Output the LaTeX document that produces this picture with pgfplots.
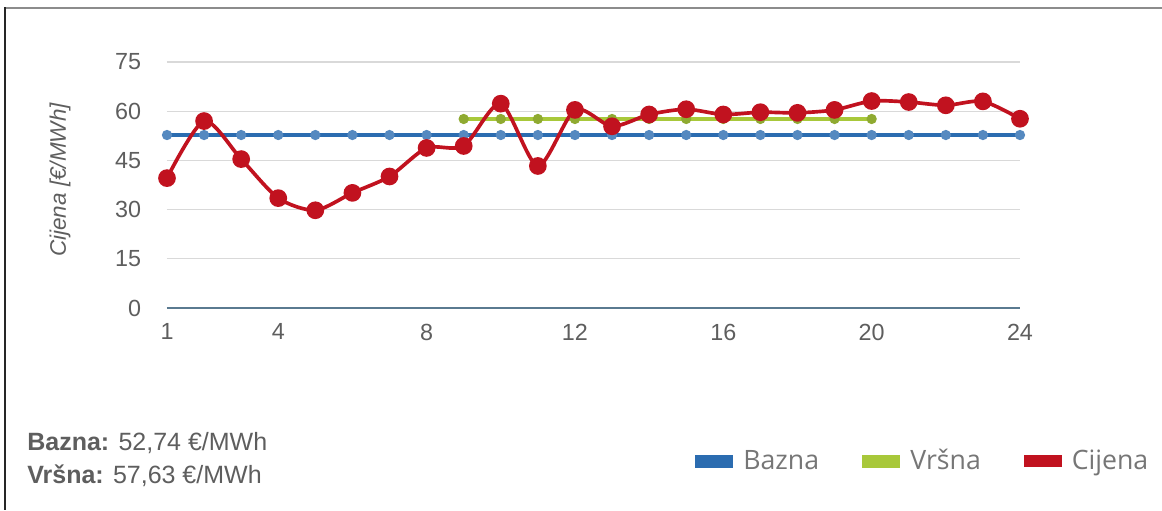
\documentclass[border=0pt]{standalone}
\usepackage{pgfplots}
\pgfplotsset{compat=1.18}
\usepackage{fontspec}
\setmainfont{Liberation Sans}
\newfontfamily\legfont{Open Sans}

\definecolor{bazna}{HTML}{2B6CB0}
\definecolor{vrsna}{HTML}{A8C83A}
\definecolor{cijena}{HTML}{C1121F}
\definecolor{axisc}{HTML}{5A7A90}
\definecolor{gridc}{HTML}{D9D9D9}
\definecolor{txt}{HTML}{5E5E5E}

\begin{document}
\begin{tikzpicture}
% frame, in pixel units of the reference
\begin{scope}[x=0.6pt,y=0.6pt]
  \useasboundingbox (0,0) rectangle (1162,510);
  \draw[black!45, line width=1.3pt] (4,502) -- (1162,502);
  \draw[black!85, line width=1.2pt] (4.5,502.6) -- (4.5,0);
  \node[anchor=base west, inner sep=0pt, text=txt, font=\fontsize{15}{17}\selectfont] at (27,60) {\textbf{Bazna:} 52,74 €/MWh};
  \node[anchor=base west, inner sep=0pt, text=txt, font=\fontsize{15}{17}\selectfont] at (27,27) {\textbf{Vršna:} 57,63 €/MWh};
\end{scope}

\begin{axis}[
    at={(100.2pt,121.2pt)}, anchor=south west,
    scale only axis,
    width=511.8pt, height=147.6pt,
    xmin=1, xmax=24,
    ymin=0, ymax=75,
    xtick={1,4,8,12,16,20,24},
    ytick={0,15,30,45,60,75},
    major tick length=0pt,
    ymajorgrids=true,
    grid style={gridc, line width=0.8pt},
    axis lines*=left,
    x axis line style={axisc, line width=1.2pt, -},
    y axis line style={draw=none},
    /pgf/number format/assume math mode=true,
    ticklabel style={font=\fontsize{14}{16}\selectfont, text=txt},
    yticklabel shift=12pt,
    xticklabel shift=6pt,
    ylabel={\itshape Cijena [€/MWh]},
    every axis y label/.style={at={(axis description cs:-0.1254,0.52)}, rotate=90, anchor=center,
        font=\fontsize{13.5}{16}\selectfont, text=txt},
    legend columns=3,
    legend style={at={(axis description cs:1.1606,-0.622)}, anchor=east,
        draw=none, fill=none, font=\legfont\fontsize{16}{18}\selectfont, text=txt!85,
        /tikz/every odd column/.append style={column sep=4pt},
        /tikz/every even column/.append style={column sep=24pt},
        nodes={inner sep=2pt}},
    legend image code/.code={\fill[#1] (0pt,-2.7pt) rectangle (20.4pt,2.7pt);},
]
\addplot[color=bazna, line width=2.4pt, mark=*, mark size=1.8pt,
    mark options={fill=bazna!80, draw=bazna!80}]
    coordinates {
    (1,52.74)(2,52.74)(3,52.74)(4,52.74)(5,52.74)(6,52.74)(7,52.74)(8,52.74)
    (9,52.74)(10,52.74)(11,52.74)(12,52.74)(13,52.74)(14,52.74)(15,52.74)(16,52.74)
    (17,52.74)(18,52.74)(19,52.74)(20,52.74)(21,52.74)(22,52.74)(23,52.74)(24,52.74)
    };
\addlegendentry{Bazna}

\addplot[color=vrsna, line width=2.4pt, mark=*, mark size=1.8pt,
    mark options={fill=vrsna!85!black, draw=vrsna!85!black}]
    coordinates {
    (9,57.63)(10,57.63)(11,57.63)(12,57.63)(13,57.63)(14,57.63)
    (15,57.63)(16,57.63)(17,57.63)(18,57.63)(19,57.63)(20,57.63)
    };
\addlegendentry{Vršna}

\addplot[color=cijena, line width=2.2pt, smooth, tension=0.45, mark=*, mark size=4.2pt,
    mark options={fill=cijena, draw=cijena}]
    coordinates {
    (1,39.6)(2,57.0)(3,45.4)(4,33.5)(5,29.8)(6,35.1)(7,40.1)(8,48.8)
    (9,49.4)(10,62.3)(11,43.3)(12,60.4)(13,55.4)(14,59.0)(15,60.6)(16,59.0)
    (17,59.7)(18,59.5)(19,60.4)(20,63.1)(21,62.8)(22,61.8)(23,63.0)(24,57.7)
    };
\addlegendentry{Cijena}
\end{axis}
\end{tikzpicture}
\end{document}
